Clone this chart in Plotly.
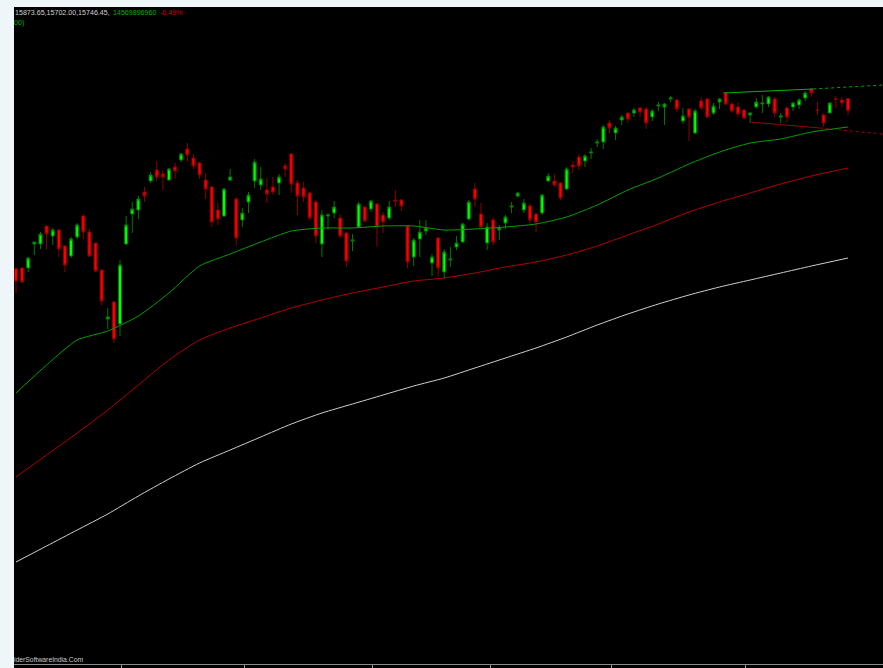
import plotly.graph_objects as go

# ---------------- data ----------------
bar_index = list(range(137))

opens = [
    14164, 14174, 14174, 14414, 14414, 14594, 14494, 14554, 14394, 14294,
    14484, 14694, 14534, 14424, 14154, 13664, 13834, 13614, 14414, 14714,
    14754, 14934, 15044, 15154, 15114, 15054, 15184, 15254, 15364, 15274,
    15224, 15054, 14984, 14754, 14694, 15054, 14864, 14654, 14834, 15044,
    15004, 14954, 14984, 15024, 15194, 15314, 15024, 14974, 14924, 14834,
    14414, 14694, 14724, 14674, 14524, 14444, 14584, 14784, 14764, 14814,
    14704, 14674, 14854, 14854, 14594, 14284, 14464, 14544, 14224, 14474,
    14134, 14254, 14384, 14434, 14664, 14964, 14714, 14424, 14654, 14554,
    14624, 14784, 14894, 14754, 14794, 14714, 14724, 15044, 15044, 15024,
    14964, 15204, 15284, 15244, 15324, 15424, 15434, 15624, 15524, 15654,
    15724, 15724, 15774, 15764, 15684, 15794, 15784, 15864, 15854, 15644,
    15764, 15524, 15844, 15864, 15724, 15834, 15924, 15814, 15784, 15754,
    15704, 15784, 15814, 15814, 15864, 15684, 15774, 15784, 15804, 15874,
    15964, 15754, 15704, 15724, 15864, 15854, 15868]

highs = [
    14184, 14184, 14284, 14434, 14534, 14594, 14574, 14564, 14404, 14484,
    14624, 14714, 14564, 14424, 14154, 13774, 13844, 14254, 14694, 14834,
    14894, 14984, 15134, 15244, 15154, 15174, 15224, 15324, 15424, 15314,
    15234, 15124, 14994, 14824, 14974, 15164, 14884, 14774, 14934, 15264,
    15184, 15074, 15084, 15114, 15224, 15324, 15054, 15034, 14934, 14854,
    14754, 14724, 14844, 14714, 14534, 14514, 14834, 14794, 14854, 14824,
    14734, 14844, 14954, 14864, 14604, 14474, 14654, 14654, 14314, 14484,
    14364, 14384, 14494, 14624, 14854, 15024, 14824, 14624, 14684, 14604,
    14704, 14834, 14934, 14864, 14824, 14724, 14914, 15124, 15114, 15034,
    15184, 15244, 15314, 15314, 15374, 15464, 15604, 15654, 15594, 15704,
    15724, 15774, 15784, 15784, 15764, 15834, 15824, 15894, 15864, 15774,
    15774, 15764, 15884, 15874, 15824, 15874, 15934, 15834, 15834, 15764,
    15734, 15874, 15904, 15894, 15884, 15724, 15794, 15834, 15874, 15944,
    15974, 15834, 15724, 15834, 15894, 15884, 15873.65]

lows = [
    13924, 14024, 14134, 14304, 14364, 14364, 14404, 14284, 14134, 14274,
    14464, 14464, 14284, 14134, 13804, 13564, 13424, 13494, 14404, 14524,
    14664, 14834, 15024, 15044, 14954, 15044, 15064, 15234, 15234, 15164,
    15064, 14864, 14584, 14604, 14684, 15044, 14404, 14584, 14724, 14974,
    14954, 14824, 14904, 14904, 15084, 14924, 14704, 14834, 14654, 14424,
    14284, 14554, 14674, 14474, 14184, 14344, 14574, 14634, 14734, 14394,
    14524, 14654, 14784, 14744, 14174, 14194, 14284, 14504, 14094, 14094,
    14064, 14184, 14354, 14424, 14654, 14784, 14574, 14354, 14404, 14454,
    14564, 14724, 14884, 14724, 14624, 14534, 14704, 15034, 14984, 14854,
    14954, 15124, 15154, 15184, 15264, 15384, 15364, 15524, 15454, 15604,
    15624, 15684, 15684, 15564, 15644, 15744, 15604, 15834, 15734, 15614,
    15444, 15514, 15754, 15674, 15704, 15764, 15804, 15724, 15684, 15664,
    15624, 15774, 15724, 15784, 15684, 15624, 15634, 15744, 15764, 15844,
    15884, 15704, 15584, 15724, 15774, 15784, 15702.00]

closes = [
    14044, 14034, 14274, 14434, 14514, 14514, 14554, 14364, 14204, 14464,
    14604, 14534, 14294, 14144, 13844, 13684, 13464, 14204, 14604, 14764,
    14864, 14894, 15104, 15084, 15084, 15164, 15144, 15314, 15304, 15194,
    15104, 14964, 14634, 14664, 14964, 15084, 14474, 14724, 14904, 15234,
    15064, 14914, 14934, 15084, 15164, 15014, 14894, 14884, 14674, 14494,
    14704, 14704, 14784, 14494, 14244, 14454, 14814, 14644, 14844, 14584,
    14634, 14784, 14844, 14794, 14234, 14454, 14534, 14574, 14284, 14174,
    14334, 14264, 14424, 14614, 14834, 14864, 14584, 14584, 14434, 14574,
    14684, 14794, 14924, 14824, 14654, 14634, 14904, 15094, 15004, 14874,
    15164, 15184, 15194, 15294, 15334, 15434, 15584, 15574, 15574, 15684,
    15664, 15754, 15734, 15624, 15744, 15804, 15814, 15874, 15764, 15694,
    15684, 15744, 15774, 15684, 15794, 15864, 15814, 15744, 15714, 15674,
    15724, 15834, 15824, 15884, 15724, 15694, 15684, 15824, 15854, 15924,
    15924, 15749, 15624, 15824, 15859, 15824, 15746.45]

# moving averages, read at every 5th bar
ma_index = [0, 5, 10, 15, 20, 25, 30, 35, 40, 45, 50, 55, 60, 65, 70,
            75, 80, 85, 90, 95, 100, 105, 110, 115, 120, 125, 130, 136]
ma_green = [12924, 13204, 13454, 13544, 13694, 13924, 14194, 14314, 14434, 14544,
            14574, 14574, 14594, 14594, 14554, 14564, 14584, 14614, 14684, 14804,
            14954, 15074, 15214, 15334, 15424, 15464, 15534, 15584]
ma_red = [12084, 12304, 12524, 12754, 13004, 13254, 13454, 13574, 13674, 13774,
          13854, 13924, 13984, 14044, 14074, 14124, 14184, 14234, 14304, 14394,
          14504, 14614, 14734, 14834, 14924, 15014, 15094, 15174]
ma_white = [11234, 11394, 11554, 11714, 11894, 12064, 12224, 12354, 12484, 12614,
            12724, 12814, 12904, 12994, 13074, 13174, 13274, 13374, 13484, 13604,
            13714, 13814, 13904, 13984, 14054, 14124, 14194, 14274]

# trend lines (bar index, price)
upper_x = [115.6, 130.3]
upper_y = [15924, 15964]
upper_ext_x = [130.3, 141.7]
upper_ext_y = [15964, 16004]
lower_x = [120.0, 131.4]
lower_y = [15634, 15574]
lower_ext_x = [131.4, 141.7]
lower_ext_y = [15574, 15514]

month_ticks = [17.2, 37.4, 58.2, 77.5, 97.4, 119.3]

header_hlc = "15873.65,15702.00,15746.45,"
header_vol = "14569896960"
header_chg = "-0.49%"
header_line2 = "00)"
footer = "iderSoftwareIndia.Com"

# ---------------- figure ----------------
W, H = 883, 668
ML, MR, MT, MB = 14, 0, 7, 4
PW, PH = W - ML - MR, H - MT - MB

fig = go.Figure()

fig.add_trace(go.Scatter(x=ma_index, y=ma_white, mode="lines",
                         line=dict(color="#cfcfcf", width=1, shape="spline", smoothing=0.6),
                         hoverinfo="skip"))
fig.add_trace(go.Scatter(x=ma_index, y=ma_red, mode="lines",
                         line=dict(color="#b40000", width=1, shape="spline", smoothing=0.6),
                         hoverinfo="skip"))
fig.add_trace(go.Scatter(x=ma_index, y=ma_green, mode="lines",
                         line=dict(color="#00a000", width=1, shape="spline", smoothing=0.6),
                         hoverinfo="skip"))

fig.add_trace(go.Candlestick(
    x=bar_index, open=opens, high=highs, low=lows, close=closes,
    increasing=dict(fillcolor="#00ff00", line=dict(color="#007800", width=1)),
    decreasing=dict(fillcolor="#ff0000", line=dict(color="#8c0000", width=1)),
    whiskerwidth=0, hoverinfo="skip"))

fig.add_trace(go.Scatter(x=upper_x, y=upper_y, mode="lines",
                         line=dict(color="#00b400", width=1), hoverinfo="skip"))
fig.add_trace(go.Scatter(x=upper_ext_x, y=upper_ext_y, mode="lines",
                         line=dict(color="#00a000", width=1, dash="dot"), hoverinfo="skip"))
fig.add_trace(go.Scatter(x=lower_x, y=lower_y, mode="lines",
                         line=dict(color="#9a0000", width=1), hoverinfo="skip"))
fig.add_trace(go.Scatter(x=lower_ext_x, y=lower_ext_y, mode="lines",
                         line=dict(color="#a00000", width=1, dash="dot"), hoverinfo="skip"))

def px_x(p):
    return (p - ML) / PW

def px_y(p):
    return (H - MB - p) / PH

font_fam = "Liberation Sans, Arial, sans-serif"
FS = 7.1
ann = []
ann.append(dict(text=header_hlc, x=px_x(13), y=px_y(13), xref="paper", yref="paper",
                xanchor="left", yanchor="middle", showarrow=False,
                font=dict(family=font_fam, size=FS, color="#d0d0d0")))
ann.append(dict(text=header_vol, x=px_x(111), y=px_y(13), xref="paper", yref="paper",
                xanchor="left", yanchor="middle", showarrow=False,
                font=dict(family=font_fam, size=FS, color="#00b400")))
ann.append(dict(text=header_chg, x=px_x(158), y=px_y(13), xref="paper", yref="paper",
                xanchor="left", yanchor="middle", showarrow=False,
                font=dict(family=font_fam, size=FS, color="#d80000")))
ann.append(dict(text=header_line2, x=px_x(12), y=px_y(23), xref="paper", yref="paper",
                xanchor="left", yanchor="middle", showarrow=False,
                font=dict(family=font_fam, size=FS, color="#00b400")))
ann.append(dict(text=footer, x=px_x(12), y=px_y(659), xref="paper", yref="paper",
                xanchor="left", yanchor="middle", showarrow=False,
                font=dict(family=font_fam, size=6.8, color="#c8c8c8")))

shapes = [dict(type="rect", xref="paper", yref="paper",
               x0=0, x1=1, y0=-MB / PH, y1=0, fillcolor="#000000",
               line=dict(width=0), layer="below")]

fig.update_layout(
    width=W, height=H,
    margin=dict(l=ML, r=MR, t=MT, b=MB, pad=0),
    paper_bgcolor="#eef6fa", plot_bgcolor="#000000",
    showlegend=False, hovermode=False,
    annotations=ann, shapes=shapes,
    xaxis=dict(range=[-0.327, 141.71], showgrid=False, zeroline=False,
               rangeslider=dict(visible=False), showline=True, linecolor="#8a8a8a",
               linewidth=1, ticks="outside", ticklen=4, tickcolor="#9a9a9a",
               tickvals=month_ticks, showticklabels=False, fixedrange=True),
    yaxis=dict(range=[10214, 16784], visible=False, showgrid=False, zeroline=False,
               fixedrange=True),
)

fig.write_html("out.html",
               config={"displayModeBar": False, "staticPlot": True},
               post_script="document.body.style.margin='0';document.body.style.overflow='hidden';")
